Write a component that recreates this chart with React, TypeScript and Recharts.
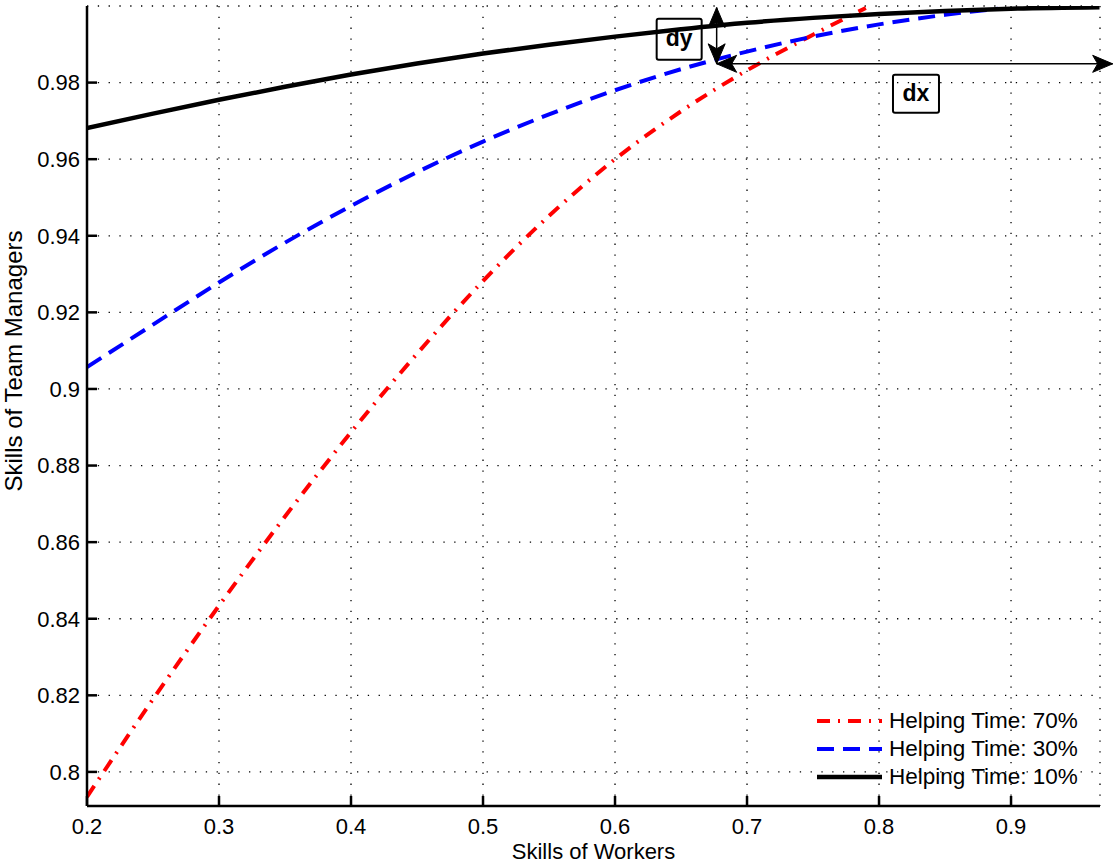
import React from 'react';
import { LineChart, Line, XAxis, YAxis, CartesianGrid, Legend, ReferenceLine, ReferenceDot, Label } from 'recharts';

const FONT = '"Liberation Sans", Arial, Helvetica, sans-serif';

// axis ticks
const xTicks = [0.2, 0.3, 0.4, 0.5, 0.6, 0.7, 0.8, 0.9];
const yTicks = [0.8, 0.82, 0.84, 0.86, 0.88, 0.9, 0.92, 0.94, 0.96, 0.98];

// Helping Time: 70%
const help70X = [0.2, 0.25, 0.3, 0.35, 0.4, 0.45, 0.5, 0.55, 0.6, 0.65, 0.7, 0.75, 0.79];
const help70Y = [0.7935, 0.819, 0.8434, 0.8667, 0.8887, 0.9092, 0.9282, 0.9452, 0.96, 0.9725, 0.9832, 0.9925, 0.9995];

// Helping Time: 30%
const help30X = [0.2, 0.25, 0.3, 0.35, 0.4, 0.45, 0.5, 0.55, 0.6, 0.65, 0.7, 0.75, 0.8, 0.85, 0.89];
const help30Y = [0.9057, 0.9168, 0.9278, 0.9382, 0.9478, 0.9566, 0.9646, 0.9717, 0.978, 0.9835, 0.9881, 0.992, 0.9952, 0.9977, 0.9993];

// Helping Time: 10%
const help10X = [0.2, 0.25, 0.3, 0.35, 0.4, 0.45, 0.5, 0.55, 0.6, 0.65, 0.7, 0.75, 0.8, 0.85, 0.9, 0.967];
const help10Y = [0.9681, 0.9719, 0.9755, 0.9789, 0.9821, 0.985, 0.9876, 0.9899, 0.992, 0.9939, 0.9956, 0.9969, 0.9979, 0.9987, 0.9993, 0.9997];

// dx / dy annotation anchors (data units)
const arrowX = 0.677;
const arrowY = 0.9849;
const arrowTopY = 0.9996;
const arrowRightX = 0.977;
const dyBox = { x: 0.6486, y: 0.9913 };
const dxBox = { x: 0.828, y: 0.9771 };

const toPoints = (xs: number[], ys: number[]) => xs.map((x, i) => ({ x, y: ys[i] }));

const series = [
  { name: 'Helping Time: 70%', data: toPoints(help70X, help70Y), color: '#ff0000', dash: '13 8 2 8', width: 4 },
  { name: 'Helping Time: 30%', data: toPoints(help30X, help30Y), color: '#0000ff', dash: '17 9', width: 4 },
  { name: 'Helping Time: 10%', data: toPoints(help10X, help10Y), color: '#000000', dash: undefined, width: 4.5 },
];

const fmt = (v: number) => String(Number(v.toFixed(2)));

const DoubleArrow = (props: any) => {
  const { x1, y1, x2, y2 } = props;
  const len = Math.hypot(x2 - x1, y2 - y1) || 1;
  const ux = (x2 - x1) / len;
  const uy = (y2 - y1) / len;
  const head = (tx: number, ty: number, dx: number, dy: number) => {
    const L = 20, W = 8.5, N = 15;
    const bx = tx - dx * L, by = ty - dy * L;
    const px = -dy, py = dx;
    const nx = tx - dx * N, ny = ty - dy * N;
    return `${tx},${ty} ${bx + px * W},${by + py * W} ${nx},${ny} ${bx - px * W},${by - py * W}`;
  };
  return (
    <g>
      <line x1={x1} y1={y1} x2={x2} y2={y2} stroke="#000" strokeWidth={1.5} />
      <polygon points={head(x1, y1, -ux, -uy)} fill="#000" stroke="#000" strokeWidth={1} strokeLinejoin="round" />
      <polygon points={head(x2, y2, ux, uy)} fill="#000" stroke="#000" strokeWidth={1} strokeLinejoin="round" />
    </g>
  );
};

const textBox = (label: string, w: number, h: number) => (props: any) => (
  <g>
    <rect x={props.cx - w / 2} y={props.cy - h / 2} width={w} height={h} rx={2} fill="none" stroke="#000" strokeWidth={2} />
    <text x={props.cx} y={props.cy + 7} textAnchor="middle" fontWeight="bold" fontSize={23} fontFamily={FONT} fill="#000">
      {label}
    </text>
  </g>
);

const LegendBox = () => (
  <div style={{ fontFamily: FONT, fontSize: 22.5, color: '#000' }}>
    {series.map(s => (
      <div key={s.name} style={{ display: 'flex', alignItems: 'center', height: 28 }}>
        <svg width={72} height={28}>
          <line x1={5} y1={14} x2={70} y2={14} stroke={s.color} strokeWidth={s.width} strokeDasharray={s.dash} />
        </svg>
        <span style={{ marginLeft: 5, whiteSpace: 'nowrap' }}>{s.name}</span>
      </div>
    ))}
  </div>
);

export default function App() {
  const tickStyle = { fontSize: 22, fill: '#000', fontFamily: FONT };
  return (
    <div style={{ position: 'absolute', left: 0, top: 0, width: 1118, height: 867, background: '#fff' }}>
      <LineChart width={1118} height={867} margin={{ top: 6, right: 18, bottom: 0, left: 0 }}>
        <CartesianGrid stroke="#000" strokeWidth={1.3} strokeDasharray="1.3 9.5" />
        <XAxis
          type="number"
          dataKey="x"
          domain={[0.2, 0.9674]}
          ticks={xTicks}
          interval={0}
          allowDataOverflow
          height={61}
          tickFormatter={fmt}
          tick={tickStyle}
          tickSize={-10}
          tickMargin={22}
          axisLine={{ stroke: '#000', strokeWidth: 2.5 }}
          tickLine={{ stroke: '#000', strokeWidth: 2.5 }}
        >
          <Label
            content={(p: any) => (
              <text x={p.viewBox.x + p.viewBox.width / 2} y={p.viewBox.y + p.viewBox.height - 8} textAnchor="middle" fontSize={22} fontFamily={FONT} fill="#000">
                Skills of Workers
              </text>
            )}
          />
        </XAxis>
        <YAxis
          type="number"
          domain={[0.7911, 1.0]}
          ticks={yTicks}
          interval={0}
          allowDataOverflow
          width={87}
          tickFormatter={fmt}
          tick={tickStyle}
          tickSize={-10}
          tickMargin={17}
          axisLine={{ stroke: '#000', strokeWidth: 2.5 }}
          tickLine={{ stroke: '#000', strokeWidth: 2.5 }}
        >
          <Label
            content={() => (
              <text transform="translate(22,361) rotate(-90)" textAnchor="middle" fontSize={24} fontFamily={FONT} fill="#000">
                Skills of Team Managers
              </text>
            )}
          />
        </YAxis>
        {series.map(s => (
          <Line
            key={s.name}
            name={s.name}
            data={s.data}
            dataKey="y"
            type="monotone"
            stroke={s.color}
            strokeWidth={s.width}
            strokeDasharray={s.dash}
            dot={false}
            activeDot={false}
            isAnimationActive={false}
          />
        ))}
        <ReferenceLine segment={[{ x: arrowX, y: arrowTopY }, { x: arrowX, y: arrowY }]} ifOverflow="visible" shape={DoubleArrow} />
        <ReferenceLine segment={[{ x: arrowX, y: arrowY }, { x: arrowRightX, y: arrowY }]} ifOverflow="visible" shape={DoubleArrow} />
        <ReferenceDot x={dyBox.x} y={dyBox.y} ifOverflow="visible" shape={textBox('dy', 45, 41)} />
        <ReferenceDot x={dxBox.x} y={dxBox.y} ifOverflow="visible" shape={textBox('dx', 46, 38)} />
        <Legend
          layout="vertical"
          align="center"
          verticalAlign="middle"
          content={<LegendBox />}
          wrapperStyle={{ position: 'absolute', left: 812, top: 707, width: 300 }}
        />
      </LineChart>
    </div>
  );
}
